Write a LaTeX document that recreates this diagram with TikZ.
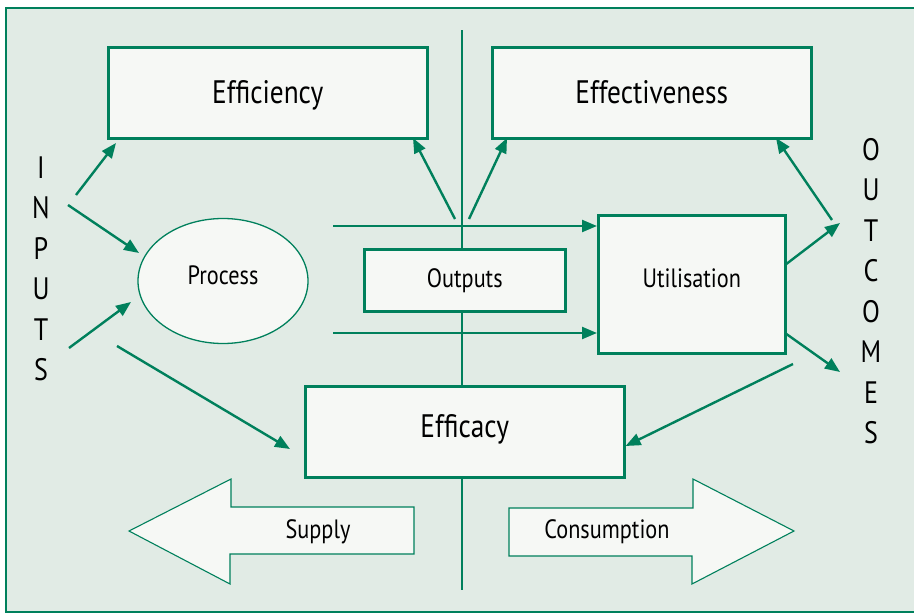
\documentclass[tikz,border=0pt]{standalone}
\usepackage{fontspec}
\setmainfont{PT Sans}[FakeStretch=0.84]
\usetikzlibrary{arrows.meta,shapes.geometric}
\definecolor{dgreen}{RGB}{0,128,92}
\definecolor{bgfill}{RGB}{225,235,229}
\definecolor{boxfill}{RGB}{246,248,245}
\tikzset{
  mainbox/.style={draw=dgreen,line width=2.6pt,fill=boxfill,inner sep=0pt,anchor=north west},
  conn/.style={draw=dgreen,line width=2.4pt,-{Triangle[length=15pt,width=12pt]}},
  plainline/.style={draw=dgreen,line width=2.2pt},
  bigarrow/.style={draw=dgreen,line width=1.1pt,fill=boxfill,line join=miter},
  bigtext/.style={font=\fontsize{32.5}{36}\selectfont,anchor=base,inner sep=0pt},
  midtext/.style={font=\fontsize{26.5}{30}\selectfont,anchor=base,inner sep=0pt},
  lettercol/.style={font=\fontsize{31}{40.5}\selectfont,align=center,inner sep=0pt},
}
\begin{document}
\begin{tikzpicture}[x=1pt,y=-1pt]
\useasboundingbox (0,0) rectangle (914,613);
% background frame
\draw[draw=dgreen,line width=2pt,fill=bgfill] (6,8) rectangle (918,612);
% vertical divider
\draw[plainline] (462,30) -- (462,590);
% boxes
\node[mainbox,minimum width=319pt,minimum height=91pt] (eff) at (107,46) {};
\node[bigtext] (efft) at (eff.center |- 0,103) {Efficiency};
\node[mainbox,minimum width=319pt,minimum height=91pt] (effv) at (491,46) {};
\node[bigtext] (effvt) at (effv.center |- 0,103) {Effectiveness};
\node[mainbox,minimum width=201pt,minimum height=62pt] (out) at (363,248) {};
\node[midtext] (outt) at (out.center |- 0,287) {Outputs};
\node[mainbox,minimum width=187pt,minimum height=138pt] (util) at (597,214) {};
\node[midtext] (utilt) at (util.center |- 0,287) {Utilisation};
\node[mainbox,minimum width=319pt,minimum height=91pt] (effc) at (304,385) {};
\node[bigtext] (effct) at (effc.center |- 0,437) {Efficacy};
\node[ellipse,draw=dgreen,line width=1.3pt,fill=boxfill,minimum width=170pt,minimum height=125pt,inner sep=0pt] (proc) at (223,281) {};
\node[midtext] (proct) at (proc.center |- 0,284) {Process};
% side labels
\node[lettercol] (inputs) at (41,269) {I\\N\\P\\U\\T\\S};
\node[lettercol] (outcomes) at (871,291) {O\\U\\T\\C\\O\\M\\E\\S};
% coordinates for free ends
\coordinate (i1) at (76,195);
\coordinate (i2) at (68,205);
\coordinate (i3) at (69,348);
\coordinate (i4) at (117,346);
\coordinate (h1) at (333,226);
\coordinate (h2) at (333,333);
\coordinate (m1) at (455,219);
\coordinate (m2) at (469,219);
\coordinate (o1) at (832,220);
\coordinate (o2) at (840,223);
\coordinate (o3) at (840,372);
\coordinate (o4) at (793,364);
\coordinate (u1) at (785,265);
\coordinate (u2) at (785,333);
% connectors
\draw[conn] (i1) -- (116,143);
\draw[conn] (i2) -- (139,253);
\draw[conn] (i3) -- (131,302);
\draw[conn] (i4) -- (290,449);
\draw[conn] (h1) -- (util.west |- h1);
\draw[conn] (h2) -- (util.west |- h2);
\draw[conn] (m1) -- (413,138);
\draw[conn] (m2) -- (507,138);
\draw[conn] (o1) -- (776,138);
\draw[conn] (u1) -- (o2);
\draw[conn] (u2) -- (o3);
\draw[conn] (o4) -- (effc.east |- 0,446);
% big arrows
\draw[bigarrow] (129,531) -- (231,479) -- (231,507) -- (414,507) -- (414,554) -- (230,554) -- (230,584) -- cycle;
\node[midtext] (supply) at (318,538) {Supply};
\draw[bigarrow] (794,531) -- (693,479) -- (693,508) -- (509,508) -- (509,556) -- (692,556) -- (692,584) -- cycle;
\node[midtext] (cons) at (607,538) {Consumption};
\end{tikzpicture}
\end{document}
